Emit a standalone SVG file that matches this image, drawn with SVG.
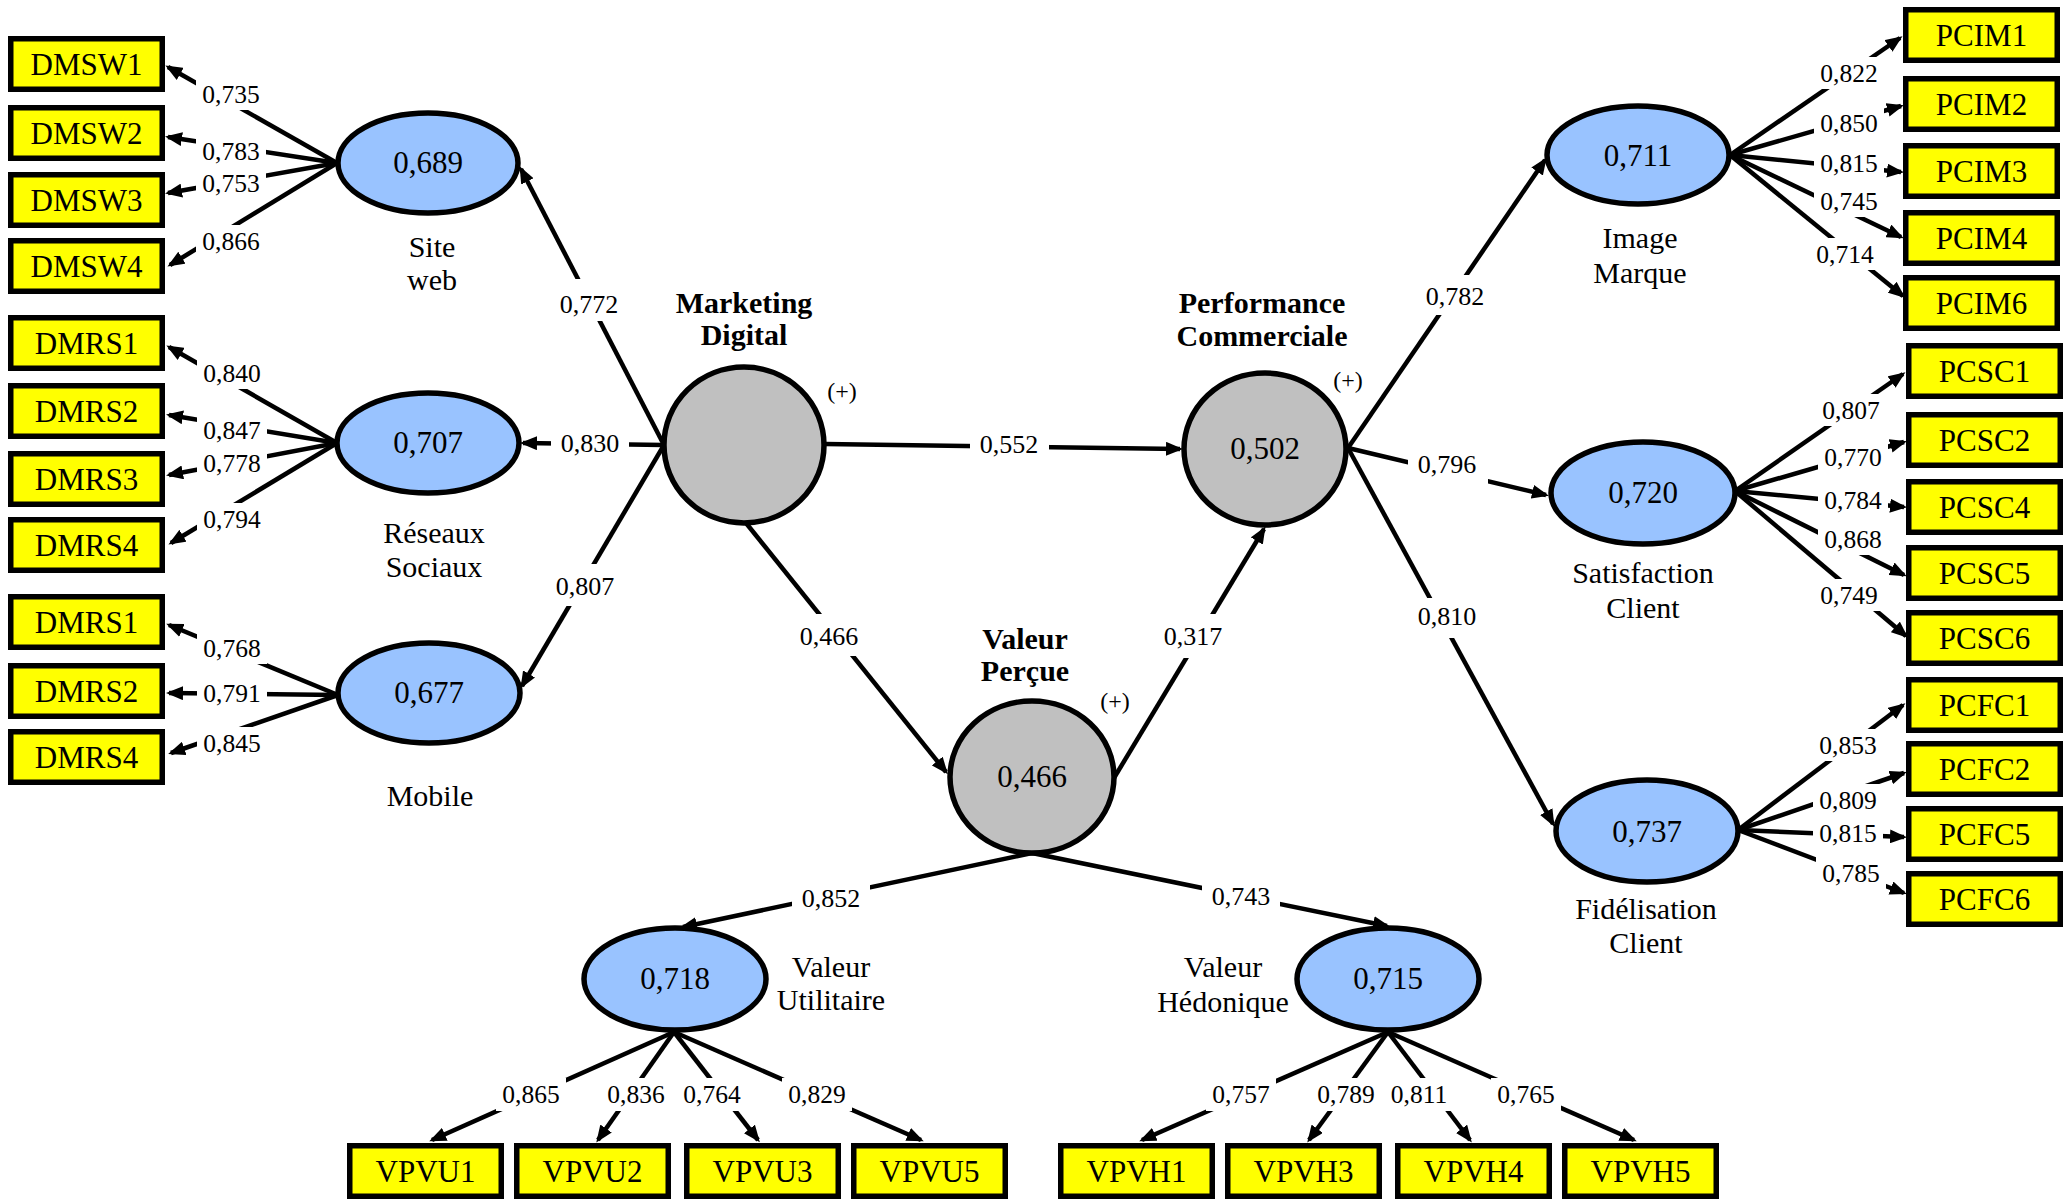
<svg xmlns="http://www.w3.org/2000/svg" width="2070" height="1200" viewBox="0 0 2070 1200">
<style>
.box{fill:#ffff00;stroke:#000;stroke-width:5.5}
.lat{fill:#99c3ff;stroke:#000;stroke-width:5.5}
.con{fill:#c0c0c0;stroke:#000;stroke-width:5.5}
.ln{stroke:#000;stroke-width:4.5;fill:none;marker-end:url(#ah)}
.bg{fill:#fff}
text{font-family:"Liberation Serif","Times New Roman",serif;fill:#000;text-anchor:middle}
.bt{font-size:31px}
.val{font-size:31px}
.nm{font-size:30px}
.bold{font-size:30px;font-weight:bold}
.ld{font-size:25.5px}
.pl{font-size:26px}
.plus{font-size:24px}
</style>
<defs>
<marker id="ah" markerUnits="userSpaceOnUse" markerWidth="17" markerHeight="14" refX="14" refY="7" orient="auto">
<path d="M0,0 L17,7 L0,14 z" fill="#000"/>
</marker>
</defs>
<rect width="2070" height="1200" fill="#fff"/>

<g id="connectors">
<!-- Site web indicators -->
<line class="ln" x1="337" y1="163" x2="168" y2="67"/>
<line class="ln" x1="337" y1="163" x2="168" y2="137"/>
<line class="ln" x1="337" y1="163" x2="168" y2="193"/>
<line class="ln" x1="337" y1="163" x2="170" y2="265"/>
<!-- Reseaux indicators -->
<line class="ln" x1="337" y1="443" x2="169" y2="347"/>
<line class="ln" x1="337" y1="443" x2="169" y2="415"/>
<line class="ln" x1="337" y1="443" x2="169" y2="475"/>
<line class="ln" x1="337" y1="443" x2="171" y2="543"/>
<!-- Mobile indicators -->
<line class="ln" x1="338" y1="695" x2="169" y2="625"/>
<line class="ln" x1="338" y1="695" x2="169" y2="693"/>
<line class="ln" x1="338" y1="695" x2="171" y2="753"/>
<!-- Marketing Digital to dimensions -->
<line class="ln" x1="664" y1="445" x2="521" y2="169"/>
<line class="ln" x1="664" y1="445" x2="523" y2="443"/>
<line class="ln" x1="664" y1="445" x2="522" y2="686"/>
<!-- structural paths -->
<line class="ln" x1="825" y1="444" x2="1180" y2="449"/>
<line class="ln" x1="746" y1="523" x2="946" y2="772"/>
<line class="ln" x1="1114" y1="778" x2="1264" y2="529"/>
<line class="ln" x1="1032" y1="853" x2="683" y2="927"/>
<line class="ln" x1="1032" y1="853" x2="1387" y2="926"/>
<line class="ln" x1="1348" y1="448" x2="1545" y2="160"/>
<line class="ln" x1="1348" y1="448" x2="1546" y2="495"/>
<line class="ln" x1="1348" y1="448" x2="1553" y2="824"/>
<!-- Image Marque indicators -->
<line class="ln" x1="1730" y1="155" x2="1900" y2="38"/>
<line class="ln" x1="1730" y1="155" x2="1901" y2="106"/>
<line class="ln" x1="1730" y1="155" x2="1901" y2="172"/>
<line class="ln" x1="1730" y1="155" x2="1901" y2="237"/>
<line class="ln" x1="1730" y1="155" x2="1903" y2="296"/>
<!-- Satisfaction indicators -->
<line class="ln" x1="1735" y1="491" x2="1903" y2="374"/>
<line class="ln" x1="1735" y1="491" x2="1904" y2="442"/>
<line class="ln" x1="1735" y1="491" x2="1904" y2="507"/>
<line class="ln" x1="1735" y1="491" x2="1904" y2="575"/>
<line class="ln" x1="1735" y1="491" x2="1906" y2="636"/>
<!-- Fidelisation indicators -->
<line class="ln" x1="1738" y1="830" x2="1903" y2="705"/>
<line class="ln" x1="1738" y1="830" x2="1904" y2="773"/>
<line class="ln" x1="1738" y1="830" x2="1904" y2="837"/>
<line class="ln" x1="1738" y1="830" x2="1904" y2="893"/>
<!-- Valeur Utilitaire indicators -->
<line class="ln" x1="674" y1="1032" x2="432" y2="1140"/>
<line class="ln" x1="674" y1="1032" x2="598" y2="1140"/>
<line class="ln" x1="674" y1="1032" x2="758" y2="1140"/>
<line class="ln" x1="674" y1="1032" x2="921" y2="1140"/>
<!-- Valeur Hedonique indicators -->
<line class="ln" x1="1388" y1="1032" x2="1142" y2="1140"/>
<line class="ln" x1="1388" y1="1032" x2="1309" y2="1140"/>
<line class="ln" x1="1388" y1="1032" x2="1470" y2="1140"/>
<line class="ln" x1="1388" y1="1032" x2="1634" y2="1140"/>
</g>

<g id="connector-labels">
<!-- left loadings -->
<rect class="bg" x="196" y="78" width="70" height="32"/><text class="ld" x="231" y="103">0,735</text>
<rect class="bg" x="196" y="135" width="70" height="32"/><text class="ld" x="231" y="160">0,783</text>
<rect class="bg" x="196" y="167" width="70" height="32"/><text class="ld" x="231" y="192">0,753</text>
<rect class="bg" x="196" y="225" width="70" height="32"/><text class="ld" x="231" y="250">0,866</text>
<rect class="bg" x="197" y="357" width="70" height="32"/><text class="ld" x="232" y="382">0,840</text>
<rect class="bg" x="197" y="414" width="70" height="32"/><text class="ld" x="232" y="439">0,847</text>
<rect class="bg" x="197" y="447" width="70" height="32"/><text class="ld" x="232" y="472">0,778</text>
<rect class="bg" x="197" y="503" width="70" height="32"/><text class="ld" x="232" y="528">0,794</text>
<rect class="bg" x="197" y="632" width="70" height="32"/><text class="ld" x="232" y="657">0,768</text>
<rect class="bg" x="197" y="677" width="70" height="32"/><text class="ld" x="232" y="702">0,791</text>
<rect class="bg" x="197" y="727" width="70" height="32"/><text class="ld" x="232" y="752">0,845</text>
<!-- centre paths -->
<rect class="bg" x="550" y="279" width="78" height="42"/><text class="pl" x="589" y="313">0,772</text>
<rect class="bg" x="551" y="421" width="78" height="42"/><text class="pl" x="590" y="452">0,830</text>
<rect class="bg" x="546" y="564" width="78" height="42"/><text class="pl" x="585" y="595">0,807</text>
<rect class="bg" x="970" y="422" width="79" height="42"/><text class="pl" x="1009" y="453">0,552</text>
<rect class="bg" x="790" y="614" width="78" height="42"/><text class="pl" x="829" y="645">0,466</text>
<rect class="bg" x="1154" y="614" width="78" height="44"/><text class="pl" x="1193" y="645">0,317</text>
<rect class="bg" x="792" y="876" width="78" height="42"/><text class="pl" x="831" y="907">0,852</text>
<rect class="bg" x="1202" y="874" width="78" height="42"/><text class="pl" x="1241" y="905">0,743</text>
<rect class="bg" x="1416" y="275" width="78" height="40"/><text class="pl" x="1455" y="305">0,782</text>
<rect class="bg" x="1408" y="442" width="80" height="42"/><text class="pl" x="1447" y="473">0,796</text>
<rect class="bg" x="1408" y="598" width="78" height="40"/><text class="pl" x="1447" y="625">0,810</text>
<!-- right loadings -->
<rect class="bg" x="1814" y="57" width="70" height="32"/><text class="ld" x="1849" y="82">0,822</text>
<rect class="bg" x="1814" y="107" width="70" height="32"/><text class="ld" x="1849" y="132">0,850</text>
<rect class="bg" x="1814" y="147" width="70" height="32"/><text class="ld" x="1849" y="172">0,815</text>
<rect class="bg" x="1814" y="185" width="70" height="32"/><text class="ld" x="1849" y="210">0,745</text>
<rect class="bg" x="1810" y="238" width="70" height="32"/><text class="ld" x="1845" y="263">0,714</text>
<rect class="bg" x="1816" y="394" width="70" height="32"/><text class="ld" x="1851" y="419">0,807</text>
<rect class="bg" x="1818" y="441" width="70" height="32"/><text class="ld" x="1853" y="466">0,770</text>
<rect class="bg" x="1818" y="484" width="70" height="32"/><text class="ld" x="1853" y="509">0,784</text>
<rect class="bg" x="1818" y="523" width="70" height="32"/><text class="ld" x="1853" y="548">0,868</text>
<rect class="bg" x="1814" y="579" width="70" height="32"/><text class="ld" x="1849" y="604">0,749</text>
<rect class="bg" x="1813" y="729" width="70" height="32"/><text class="ld" x="1848" y="754">0,853</text>
<rect class="bg" x="1813" y="784" width="70" height="32"/><text class="ld" x="1848" y="809">0,809</text>
<rect class="bg" x="1813" y="817" width="70" height="32"/><text class="ld" x="1848" y="842">0,815</text>
<rect class="bg" x="1816" y="857" width="70" height="32"/><text class="ld" x="1851" y="882">0,785</text>
<!-- bottom loadings -->
<rect class="bg" x="496" y="1078" width="70" height="33"/><text class="ld" x="531" y="1103">0,865</text>
<rect class="bg" x="601" y="1078" width="70" height="33"/><text class="ld" x="636" y="1103">0,836</text>
<rect class="bg" x="677" y="1078" width="70" height="33"/><text class="ld" x="712" y="1103">0,764</text>
<rect class="bg" x="782" y="1078" width="70" height="33"/><text class="ld" x="817" y="1103">0,829</text>
<rect class="bg" x="1206" y="1078" width="70" height="33"/><text class="ld" x="1241" y="1103">0,757</text>
<rect class="bg" x="1311" y="1078" width="70" height="33"/><text class="ld" x="1346" y="1103">0,789</text>
<rect class="bg" x="1384" y="1078" width="70" height="33"/><text class="ld" x="1419" y="1103">0,811</text>
<rect class="bg" x="1491" y="1078" width="70" height="33"/><text class="ld" x="1526" y="1103">0,765</text>
</g>

<!-- indicator boxes -->
<g id="DMSW1"><rect class="box" x="10.75" y="38.75" width="151.5" height="50.5"/><text class="bt" x="86.5" y="75">DMSW1</text></g>
<g id="DMSW2"><rect class="box" x="10.75" y="107.75" width="151.5" height="50.5"/><text class="bt" x="86.5" y="144">DMSW2</text></g>
<g id="DMSW3"><rect class="box" x="10.75" y="174.75" width="151.5" height="50.5"/><text class="bt" x="86.5" y="211">DMSW3</text></g>
<g id="DMSW4"><rect class="box" x="10.75" y="240.75" width="151.5" height="50.5"/><text class="bt" x="86.5" y="277">DMSW4</text></g>
<g id="DMRS1"><rect class="box" x="10.75" y="317.75" width="151.5" height="50.5"/><text class="bt" x="86.5" y="354">DMRS1</text></g>
<g id="DMRS2"><rect class="box" x="10.75" y="385.75" width="151.5" height="50.5"/><text class="bt" x="86.5" y="422">DMRS2</text></g>
<g id="DMRS3"><rect class="box" x="10.75" y="453.75" width="151.5" height="50.5"/><text class="bt" x="86.5" y="490">DMRS3</text></g>
<g id="DMRS4"><rect class="box" x="10.75" y="519.75" width="151.5" height="50.5"/><text class="bt" x="86.5" y="556">DMRS4</text></g>
<g id="DMRS1-mobile"><rect class="box" x="10.75" y="596.75" width="151.5" height="50.5"/><text class="bt" x="86.5" y="633">DMRS1</text></g>
<g id="DMRS2-mobile"><rect class="box" x="10.75" y="665.75" width="151.5" height="50.5"/><text class="bt" x="86.5" y="702">DMRS2</text></g>
<g id="DMRS4-mobile"><rect class="box" x="10.75" y="731.75" width="151.5" height="50.5"/><text class="bt" x="86.5" y="768">DMRS4</text></g>

<g id="PCIM1"><rect class="box" x="1905.75" y="9.75" width="151.5" height="50.5"/><text class="bt" x="1981.5" y="46">PCIM1</text></g>
<g id="PCIM2"><rect class="box" x="1905.75" y="78.75" width="151.5" height="50.5"/><text class="bt" x="1981.5" y="115">PCIM2</text></g>
<g id="PCIM3"><rect class="box" x="1905.75" y="145.75" width="151.5" height="50.5"/><text class="bt" x="1981.5" y="182">PCIM3</text></g>
<g id="PCIM4"><rect class="box" x="1905.75" y="212.75" width="151.5" height="50.5"/><text class="bt" x="1981.5" y="249">PCIM4</text></g>
<g id="PCIM6"><rect class="box" x="1905.75" y="277.75" width="151.5" height="50.5"/><text class="bt" x="1981.5" y="314">PCIM6</text></g>
<g id="PCSC1"><rect class="box" x="1908.75" y="345.75" width="151.5" height="50.5"/><text class="bt" x="1984.5" y="382">PCSC1</text></g>
<g id="PCSC2"><rect class="box" x="1908.75" y="414.75" width="151.5" height="50.5"/><text class="bt" x="1984.5" y="451">PCSC2</text></g>
<g id="PCSC4"><rect class="box" x="1908.75" y="481.75" width="151.5" height="50.5"/><text class="bt" x="1984.5" y="518">PCSC4</text></g>
<g id="PCSC5"><rect class="box" x="1908.75" y="547.75" width="151.5" height="50.5"/><text class="bt" x="1984.5" y="584">PCSC5</text></g>
<g id="PCSC6"><rect class="box" x="1908.75" y="612.75" width="151.5" height="50.5"/><text class="bt" x="1984.5" y="649">PCSC6</text></g>
<g id="PCFC1"><rect class="box" x="1908.75" y="679.75" width="151.5" height="50.5"/><text class="bt" x="1984.5" y="716">PCFC1</text></g>
<g id="PCFC2"><rect class="box" x="1908.75" y="743.75" width="151.5" height="50.5"/><text class="bt" x="1984.5" y="780">PCFC2</text></g>
<g id="PCFC5"><rect class="box" x="1908.75" y="808.75" width="151.5" height="50.5"/><text class="bt" x="1984.5" y="845">PCFC5</text></g>
<g id="PCFC6"><rect class="box" x="1908.75" y="873.75" width="151.5" height="50.5"/><text class="bt" x="1984.5" y="910">PCFC6</text></g>

<g id="VPVU1"><rect class="box" x="349.75" y="1145.75" width="151.5" height="50.5"/><text class="bt" x="425.5" y="1182">VPVU1</text></g>
<g id="VPVU2"><rect class="box" x="516.75" y="1145.75" width="151.5" height="50.5"/><text class="bt" x="592.5" y="1182">VPVU2</text></g>
<g id="VPVU3"><rect class="box" x="686.75" y="1145.75" width="151.5" height="50.5"/><text class="bt" x="762.5" y="1182">VPVU3</text></g>
<g id="VPVU5"><rect class="box" x="853.75" y="1145.75" width="151.5" height="50.5"/><text class="bt" x="929.5" y="1182">VPVU5</text></g>
<g id="VPVH1"><rect class="box" x="1060.75" y="1145.75" width="151.5" height="50.5"/><text class="bt" x="1136.5" y="1182">VPVH1</text></g>
<g id="VPVH3"><rect class="box" x="1227.75" y="1145.75" width="151.5" height="50.5"/><text class="bt" x="1303.5" y="1182">VPVH3</text></g>
<g id="VPVH4"><rect class="box" x="1397.75" y="1145.75" width="151.5" height="50.5"/><text class="bt" x="1473.5" y="1182">VPVH4</text></g>
<g id="VPVH5"><rect class="box" x="1564.75" y="1145.75" width="151.5" height="50.5"/><text class="bt" x="1640.5" y="1182">VPVH5</text></g>

<!-- latent variables -->
<g id="site-web"><ellipse class="lat" cx="428" cy="163" rx="90" ry="50"/><text class="val" x="428" y="173">0,689</text><text class="nm" x="432" y="257">Site</text><text class="nm" x="432" y="290">web</text></g>
<g id="reseaux-sociaux"><ellipse class="lat" cx="428" cy="443" rx="91" ry="50"/><text class="val" x="428" y="453">0,707</text><text class="nm" x="434" y="543">Réseaux</text><text class="nm" x="434" y="577">Sociaux</text></g>
<g id="mobile"><ellipse class="lat" cx="429" cy="693" rx="91" ry="50"/><text class="val" x="429" y="703">0,677</text><text class="nm" x="430" y="806">Mobile</text></g>
<g id="marketing-digital"><ellipse class="con" cx="744" cy="445" rx="80" ry="78"/><text class="bold" x="744" y="313">Marketing</text><text class="bold" x="744" y="345">Digital</text><text class="plus" x="842" y="399">(+)</text></g>
<g id="performance-commerciale"><ellipse class="con" cx="1265" cy="449" rx="81" ry="76"/><text class="val" x="1265" y="459">0,502</text><text class="bold" x="1262" y="313">Performance</text><text class="bold" x="1262" y="346">Commerciale</text><text class="plus" x="1348" y="388">(+)</text></g>
<g id="valeur-percue"><ellipse class="con" cx="1032" cy="777" rx="82" ry="76"/><text class="val" x="1032" y="787">0,466</text><text class="bold" x="1025" y="649">Valeur</text><text class="bold" x="1025" y="681">Perçue</text><text class="plus" x="1115" y="709">(+)</text></g>
<g id="valeur-utilitaire"><ellipse class="lat" cx="675" cy="979" rx="91" ry="51"/><text class="val" x="675" y="989">0,718</text><text class="nm" x="831" y="977">Valeur</text><text class="nm" x="831" y="1010">Utilitaire</text></g>
<g id="valeur-hedonique"><ellipse class="lat" cx="1388" cy="979" rx="91" ry="51"/><text class="val" x="1388" y="989">0,715</text><text class="nm" x="1223" y="977">Valeur</text><text class="nm" x="1223" y="1012">Hédonique</text></g>
<g id="image-marque"><ellipse class="lat" cx="1638" cy="155" rx="91" ry="49"/><text class="val" x="1638" y="166">0,711</text><text class="nm" x="1640" y="248">Image</text><text class="nm" x="1640" y="283">Marque</text></g>
<g id="satisfaction-client"><ellipse class="lat" cx="1643" cy="493" rx="92" ry="51"/><text class="val" x="1643" y="503">0,720</text><text class="nm" x="1643" y="583">Satisfaction</text><text class="nm" x="1643" y="618">Client</text></g>
<g id="fidelisation-client"><ellipse class="lat" cx="1647" cy="831" rx="91" ry="51"/><text class="val" x="1647" y="842">0,737</text><text class="nm" x="1646" y="919">Fidélisation</text><text class="nm" x="1646" y="953">Client</text></g>
</svg>
